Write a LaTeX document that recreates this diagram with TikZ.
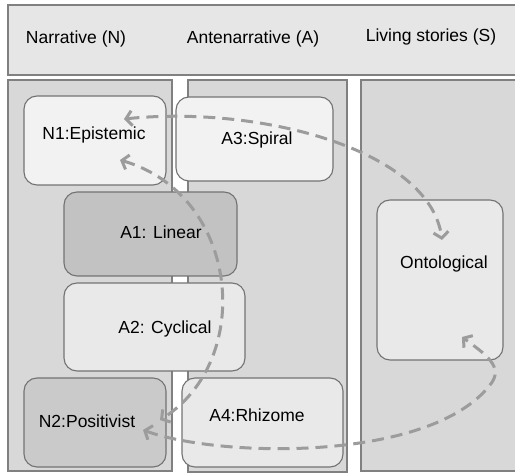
\documentclass[tikz,border=0pt]{standalone}
\usepackage{fontspec}
\setmainfont{Liberation Sans}
\usetikzlibrary{arrows.meta}
\definecolor{headfill}{HTML}{E6E6E6}
\definecolor{colfill}{HTML}{D8D8D8}
\definecolor{edgegray}{HTML}{808080}
\definecolor{cardedge}{HTML}{737373}
\definecolor{paleA}{HTML}{F2F2F2}
\definecolor{paleB}{HTML}{E9E9E9}
\definecolor{darkA}{HTML}{C2C2C2}
\definecolor{darkB}{HTML}{CACACA}
\definecolor{flowgray}{HTML}{9C9C9C}
\begin{document}
\begin{tikzpicture}[x=1pt,y=-1pt,
  panel/.style={draw=edgegray, line width=1.2pt, fill=colfill},
  card/.style={draw=cardedge, line width=1.1pt, rounded corners=13pt},
  lbl/.style={font=\fontsize{17.5}{21}\selectfont, text=black, inner sep=0pt},
  flow/.style={flowgray, line width=3pt, dash pattern=on 12pt off 7pt,
    {Straight Barb[length=6pt,width=15pt]}-{Straight Barb[length=6pt,width=15pt]}}
]
\useasboundingbox (0,0) rectangle (515,473);

% header band and the three columns
\path[panel, fill=headfill] (8,5) rectangle (525,75);
\path[panel] (8,80) rectangle (172,471);
\path[panel] (188,80) rectangle (347,472);
\path[panel] (361,80) rectangle (525,471);

\node[lbl] (hN) at (76,39) {Narrative (N)};
\node[lbl] (hA) at (253,39) {Antenarrative (A)};
\node[lbl] (hS) at (431,37) {Living stories (S)};

% rounded cards
\path[card, fill=paleA] (24,96) rectangle (166,185);
\path[card, fill=paleA] (176,97) rectangle (333,181);
\path[card, fill=darkA] (64,192) rectangle (237,276);
\path[card, fill=paleB] (64,283) rectangle (245,371);
\path[card, fill=darkB] (24,378) rectangle (166,467);
\path[card, fill=paleB] (182,378) rectangle (343,467);
\path[card, fill=paleB] (377,200) rectangle (503,360);

\node[lbl] (n1) at (94,135) {N1:Epistemic};
\node[lbl] (a3) at (257,140) {A3:Spiral};
\node[lbl] (a1) at (161,232) {A1: Linear};
\node[lbl] (a2) at (165,329) {A2: Cyclical};
\node[lbl] (n2) at (87,421) {N2:Positivist};
\node[lbl] (a4) at (257,415) {A4:Rhizome};
\node[lbl] (on) at (444,264) {Ontological};

% end points of the dashed links
\coordinate (n1up) at (124,119);
\coordinate (n1lo) at (120,160);
\coordinate (ontop) at (442,240);
\coordinate (onlo) at (462,337);
\coordinate (n2up) at (160,420);
\coordinate (n2lo) at (143,430);

% dashed links
\draw[flow] (n1up) .. controls (260,105) and (430,150) .. (ontop);
\draw[flow] (n1lo) .. controls (240,195) and (255,360) .. (n2up);
\draw[flow] (n2lo) .. controls (220,458) and (430,462) .. (490,385)
  .. controls (505,367) and (485,354) .. (onlo);
\end{tikzpicture}
\end{document}
